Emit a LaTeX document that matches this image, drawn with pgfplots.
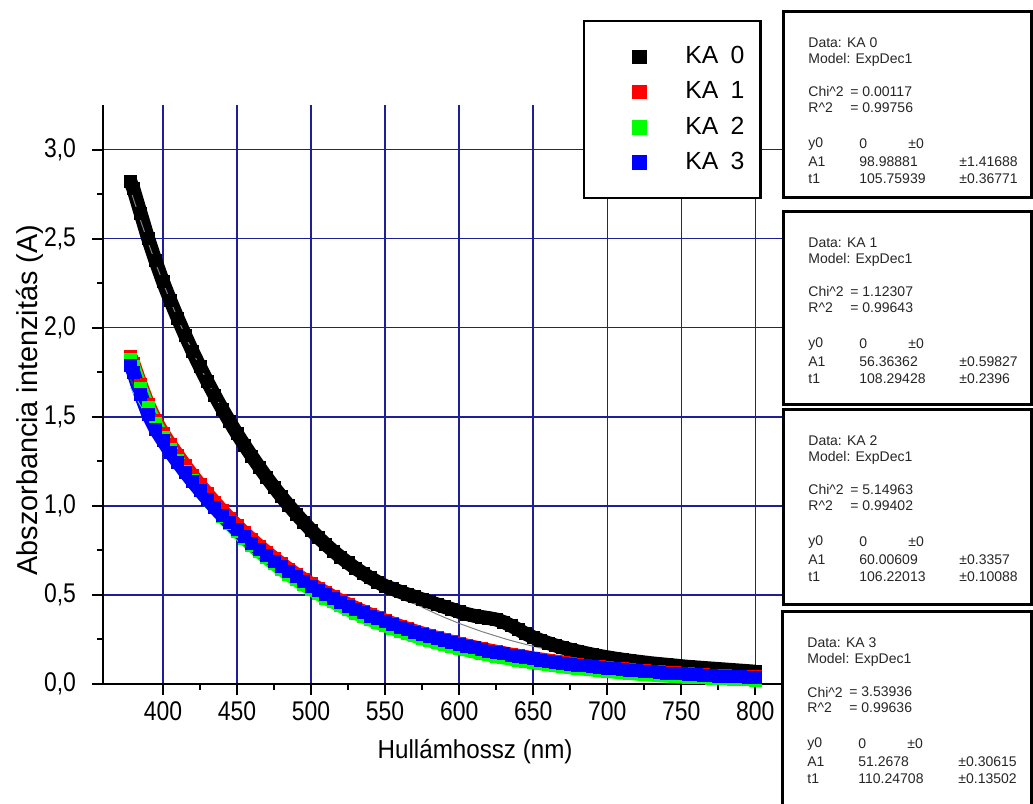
\documentclass[border=0pt]{standalone}
\usepackage{fontspec}
\setmainfont{Liberation Sans}
\newfontfamily\ticksf[FakeStretch=0.85]{Liberation Sans}
\newfontfamily\labsf[FakeStretch=0.93]{Liberation Sans}
\usepackage{pgfplots}
\usepackage{pgfplotstable}
\pgfplotsset{compat=1.18}
\definecolor{gridnavy}{RGB}{30,30,150}

% x: wavelength (nm); d = measured, f = ExpDec1 fit
\pgfplotstableread{
x   d0    f0    d1    f1    d2    f2    d3    f3
378 2.820 2.776 1.840 1.718 1.820 1.709 1.790 1.663
380 2.780 2.724 1.800 1.687 1.780 1.677 1.750 1.633
385 2.640 2.598 1.680 1.611 1.660 1.600 1.625 1.560
390 2.500 2.478 1.570 1.538 1.550 1.526 1.515 1.491
395 2.375 2.363 1.480 1.469 1.460 1.456 1.430 1.425
400 2.258 2.254 1.408 1.402 1.385 1.389 1.365 1.362
405 2.152 2.150 1.344 1.339 1.315 1.325 1.301 1.301
410 2.052 2.051 1.284 1.279 1.254 1.264 1.244 1.244
415 1.957 1.956 1.226 1.221 1.196 1.206 1.189 1.189
420 1.866 1.866 1.171 1.166 1.141 1.151 1.136 1.136
425 1.780 1.780 1.118 1.113 1.088 1.098 1.086 1.086
430 1.697 1.698 1.068 1.063 1.037 1.047 1.037 1.037
435 1.619 1.619 1.020 1.015 0.989 0.999 0.991 0.991
440 1.544 1.544 0.974 0.969 0.943 0.953 0.947 0.947
445 1.473 1.473 0.931 0.926 0.900 0.910 0.905 0.905
450 1.405 1.405 0.889 0.884 0.858 0.868 0.865 0.865
455 1.340 1.340 0.849 0.844 0.818 0.828 0.827 0.827
460 1.278 1.278 0.811 0.806 0.780 0.790 0.790 0.790
465 1.218 1.219 0.775 0.770 0.743 0.753 0.755 0.755
470 1.160 1.163 0.740 0.735 0.709 0.719 0.722 0.722
475 1.105 1.109 0.707 0.702 0.676 0.686 0.690 0.690
480 1.052 1.058 0.675 0.670 0.644 0.654 0.659 0.659
485 1.002 1.009 0.645 0.640 0.614 0.624 0.630 0.630
490 0.954 0.963 0.616 0.611 0.585 0.595 0.602 0.602
495 0.908 0.918 0.588 0.583 0.558 0.568 0.575 0.575
500 0.864 0.876 0.562 0.557 0.532 0.542 0.550 0.550
505 0.822 0.835 0.537 0.532 0.507 0.517 0.525 0.525
510 0.783 0.797 0.513 0.508 0.483 0.493 0.502 0.502
515 0.746 0.760 0.490 0.485 0.461 0.471 0.480 0.480
520 0.712 0.725 0.468 0.463 0.439 0.449 0.459 0.459
525 0.680 0.691 0.447 0.442 0.418 0.428 0.438 0.438
530 0.650 0.659 0.427 0.422 0.399 0.409 0.419 0.419
535 0.622 0.629 0.408 0.403 0.380 0.390 0.400 0.400
540 0.596 0.600 0.390 0.385 0.362 0.372 0.382 0.382
545 0.572 0.572 0.373 0.368 0.345 0.355 0.366 0.366
550 0.550 0.546 0.356 0.351 0.329 0.339 0.349 0.349
555 0.534 0.521 0.340 0.335 0.313 0.323 0.334 0.334
560 0.518 0.497 0.325 0.320 0.298 0.308 0.319 0.319
565 0.503 0.474 0.311 0.306 0.284 0.294 0.305 0.305
570 0.489 0.452 0.297 0.292 0.270 0.280 0.291 0.291
575 0.475 0.431 0.284 0.279 0.258 0.268 0.278 0.278
580 0.461 0.411 0.271 0.266 0.245 0.255 0.266 0.266
585 0.447 0.392 0.259 0.254 0.234 0.244 0.254 0.254
590 0.433 0.374 0.248 0.243 0.222 0.232 0.243 0.243
595 0.420 0.357 0.237 0.232 0.212 0.222 0.232 0.232
600 0.405 0.340 0.226 0.221 0.201 0.211 0.222 0.222
605 0.393 0.325 0.216 0.211 0.192 0.202 0.212 0.212
610 0.383 0.310 0.207 0.202 0.182 0.192 0.203 0.203
615 0.376 0.295 0.198 0.193 0.174 0.184 0.194 0.194
620 0.370 0.282 0.189 0.184 0.165 0.175 0.185 0.185
625 0.362 0.269 0.181 0.176 0.157 0.167 0.177 0.177
630 0.348 0.256 0.173 0.168 0.149 0.159 0.169 0.169
635 0.328 0.244 0.165 0.160 0.142 0.152 0.162 0.162
640 0.305 0.233 0.158 0.153 0.135 0.145 0.154 0.154
645 0.282 0.222 0.151 0.146 0.128 0.138 0.148 0.148
650 0.262 0.212 0.144 0.139 0.122 0.132 0.141 0.141
655 0.245 0.202 0.138 0.133 0.116 0.126 0.135 0.135
660 0.230 0.193 0.132 0.127 0.110 0.120 0.129 0.129
665 0.216 0.184 0.126 0.121 0.105 0.115 0.123 0.123
670 0.204 0.176 0.121 0.116 0.099 0.109 0.118 0.118
675 0.193 0.167 0.116 0.111 0.094 0.104 0.112 0.112
680 0.183 0.160 0.111 0.106 0.090 0.100 0.107 0.107
685 0.174 0.152 0.106 0.101 0.085 0.095 0.103 0.103
690 0.165 0.145 0.101 0.096 0.081 0.091 0.098 0.098
695 0.157 0.139 0.097 0.092 0.077 0.087 0.094 0.094
700 0.150 0.132 0.093 0.088 0.073 0.083 0.090 0.090
705 0.143 0.126 0.089 0.084 0.069 0.079 0.086 0.086
710 0.137 0.120 0.085 0.080 0.065 0.075 0.082 0.082
715 0.131 0.115 0.082 0.077 0.062 0.072 0.078 0.078
720 0.126 0.109 0.078 0.073 0.058 0.068 0.075 0.075
725 0.121 0.104 0.075 0.070 0.055 0.065 0.071 0.071
730 0.116 0.100 0.072 0.067 0.052 0.062 0.068 0.068
735 0.112 0.095 0.069 0.064 0.049 0.059 0.065 0.065
740 0.108 0.091 0.066 0.061 0.047 0.057 0.062 0.062
745 0.104 0.086 0.063 0.058 0.044 0.054 0.060 0.060
750 0.100 0.082 0.060 0.055 0.042 0.052 0.057 0.057
755 0.096 0.079 0.058 0.053 0.039 0.049 0.054 0.054
760 0.093 0.075 0.056 0.051 0.037 0.047 0.052 0.052
765 0.090 0.072 0.053 0.048 0.035 0.045 0.050 0.050
770 0.087 0.068 0.051 0.046 0.033 0.043 0.048 0.048
775 0.084 0.065 0.049 0.044 0.031 0.041 0.045 0.045
780 0.081 0.062 0.047 0.042 0.029 0.039 0.043 0.043
785 0.078 0.059 0.045 0.040 0.027 0.037 0.042 0.042
790 0.075 0.056 0.043 0.038 0.025 0.035 0.040 0.040
795 0.072 0.054 0.042 0.037 0.024 0.034 0.038 0.038
800 0.069 0.051 0.040 0.035 0.022 0.032 0.036 0.036
}\data

\newcommand{\boxfont}{\fontsize{7}{8}\selectfont}
% text of one fit report; #1 left, #2 top (pixels from top of image)
\newcommand{\fitbox}[9]{%
  \begin{scope}[every node/.style={anchor=west, inner sep=0pt, font=\boxfont, text=black!85}]
    \node at ({#1+25},{803-#2-31}) {Data: KA #3};
    \node at ({#1+25},{803-#2-48}) {Model: ExpDec1};
    \node at ({#1+25},{803-#2-80}) {Chi\textasciicircum 2};
    \node at ({#1+67},{803-#2-80}) {= #4};
    \node at ({#1+25},{803-#2-96}) {R\textasciicircum 2};
    \node at ({#1+67},{803-#2-96}) {= #5};
    \node at ({#1+25},{803-#2-132}) {y0};
    \node at ({#1+76},{803-#2-132}) {0};
    \node at ({#1+125},{803-#2-132}) {±0};
    \node at ({#1+25},{803-#2-150}) {A1};
    \node at ({#1+76},{803-#2-150}) {#6};
    \node at ({#1+176},{803-#2-150}) {±#7};
    \node at ({#1+25},{803-#2-167}) {t1};
    \node at ({#1+76},{803-#2-167}) {#8};
    \node at ({#1+176},{803-#2-167}) {±#9};
  \end{scope}}

\begin{document}
\begin{tikzpicture}[x=0.5pt,y=0.5pt]
\path[use as bounding box] (0,0) rectangle (1033,803);
\begin{axis}[
  at={(51.5pt,59.5pt)}, anchor=south west,
  width=339.5pt, height=289.5pt, scale only axis,
  xmin=359.5, xmax=818, ymin=0, ymax=3.25,
  axis x line*=bottom, axis y line*=left,
  axis line style={black, line width=1pt},
  xtick={400,450,...,800}, ytick={0,0.5,...,3},
  minor x tick num=1, minor y tick num=1,
  tick align=outside, major tick length=5.5pt, minor tick length=3pt,
  xtick style={black, line width=1pt}, ytick style={black, line width=1pt},
  xmajorgrids, ymajorgrids,
  major grid style={draw=gridnavy, line width=0.75pt},
  /pgf/number format/assume math mode=true,
  xticklabel style={font=\ticksf\fontsize{13.5}{15}\selectfont},
  yticklabel style={font=\ticksf\fontsize{13.5}{15}\selectfont, xshift=-4.5pt,
    /pgf/number format/.cd, fixed, fixed zerofill, precision=1, use comma},
  xlabel={Hullámhossz (nm)},
  ylabel={Abszorbancia intenzitás (A)},
  xlabel style={font=\labsf\fontsize{13}{15}\selectfont,
    at={(axis description cs:0.548,-0.117)}, anchor=center},
  ylabel style={font=\fontsize{14.4}{16}\selectfont,
    at={(axis description cs:-0.108,0.49)}, anchor=center},
  legend style={at={(axis description cs:0.707,1.147)}, anchor=north west,
    draw=black, line width=1.2pt, fill=white,
    inner xsep=6pt, inner ysep=10.75pt, row sep=3.5pt,
    font=\fontsize{12.4}{14}\selectfont},
  legend image code/.code={%
    \path (0pt,0pt) (35.5pt,0pt);
    \draw[#1, line width=0.4pt, mark size=3.4pt] plot coordinates {(18pt,0pt)};},
  legend cell align=left,
  every axis plot/.append style={mark=square*, mark size=3pt,
    line width=7pt, mark options={line width=0.4pt}},
]
\addplot[black] table[x=x, y=d0] {\data};
\addlegendentry{KA\enspace 0\hspace{2pt}}
\addplot[red] table[x=x, y=d1] {\data};
\addlegendentry{KA\enspace 1\hspace{2pt}}
\addplot[green] table[x=x, y=d2] {\data};
\addlegendentry{KA\enspace 2\hspace{2pt}}
\addplot[blue] table[x=x, y=d3] {\data};
\addlegendentry{KA\enspace 3\hspace{2pt}}
\addplot[forget plot, no marks, black!50, line width=0.5pt] table[x=x, y=f0] {\data};
\addplot[forget plot, no marks, red!70!black, line width=0.4pt] table[x=x, y=f1] {\data};
\addplot[forget plot, no marks, green!50!black, line width=0.4pt] table[x=x, y=f2] {\data};
\addplot[forget plot, no marks, cyan!60, line width=0.4pt] table[x=x, y=f3] {\data};
\end{axis}

\draw[line width=1.5pt, fill=white] (783,791) rectangle (1031,605);
\fitbox{783}{12}{0}{0.00117}{0.99756}{98.98881}{1.41688}{105.75939}{0.36771}
\draw[line width=1.5pt, fill=white] (783,591) rectangle (1031,398);
\fitbox{783}{212}{1}{1.12307}{0.99643}{56.36362}{0.59827}{108.29428}{0.2396}
\draw[line width=1.5pt, fill=white] (783,393) rectangle (1031,198);
\fitbox{783}{410}{2}{5.14963}{0.99402}{60.00609}{0.3357}{106.22013}{0.10088}
\draw[line width=1.5pt, fill=white] (782,191) rectangle (1031,-6);
\fitbox{782}{612}{3}{3.53936}{0.99636}{51.2678}{0.30615}{110.24708}{0.13502}
\end{tikzpicture}
\end{document}
